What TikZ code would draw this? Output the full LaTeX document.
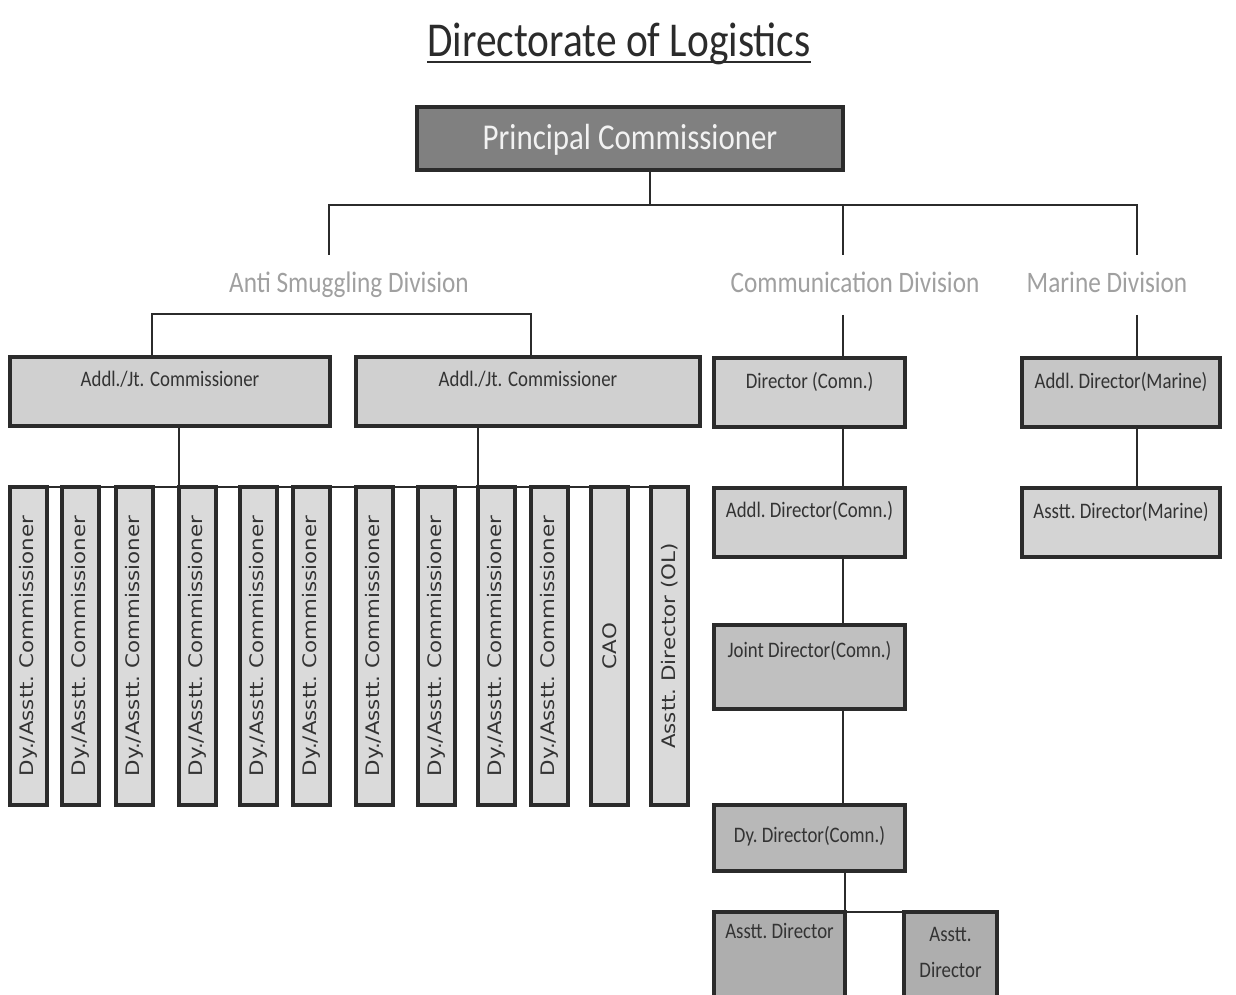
\documentclass[tikz,border=0pt]{standalone}
\usepackage{fontspec}
\setmainfont{Carlito}[FakeStretch=0.85]
\newfontfamily\vertfont{DejaVu Sans}[FakeStretch=1.15]
\usetikzlibrary{positioning}

\definecolor{boxline}{HTML}{2B2B2B}
\definecolor{boxtext}{HTML}{333333}
\definecolor{pcfill}{HTML}{808080}
\definecolor{pctext}{HTML}{F2F2F2}
\definecolor{labelgray}{HTML}{A0A0A0}
\definecolor{addlfill}{HTML}{D0D0D0}
\definecolor{vfill}{HTML}{DADADA}
\definecolor{dirfill}{HTML}{D0D0D0}
\definecolor{jdfill}{HTML}{C0C0C0}
\definecolor{dyfill}{HTML}{B8B8B8}
\definecolor{asfill}{HTML}{AEAEAE}
\definecolor{mfill}{HTML}{C6C6C6}
\definecolor{amfill}{HTML}{D4D4D4}

\begin{document}
\begin{tikzpicture}[x=1cm, y=-1cm,
    box/.style={draw=boxline, line width=1.8pt, fill=#1, anchor=north west, inner sep=0pt, outer sep=0pt,
        text=boxtext, align=center, font=\fontsize{12.6}{20}\selectfont,
        text height=0.6cm, text depth=0.78cm},
    vbox/.style={draw=boxline, line width=1.8pt, fill=vfill, rotate=90, inner sep=0pt, outer sep=0pt,
        minimum width=6.36cm, minimum height=0.74cm, text=boxtext,
        font=\vertfont\fontsize{10.6}{12}\selectfont},
    division/.style={anchor=base, text=labelgray, font=\fontsize{16.9}{20}\selectfont},
    link/.style={draw=boxline, line width=0.9pt}]

    % page
    \clip (0,0) rectangle (24.72,19.9);
    \fill[white] (0,0) rectangle (24.72,19.9);

    % title
    \node[anchor=base, inner sep=0pt, font=\fontsize{27.7}{32}\selectfont, text=boxline] (title) at (12.38,1.14) {Directorate of Logistics};
    \draw[boxline, line width=1.5pt] ([yshift=-0.1cm]title.base west) -- ([yshift=-0.1cm]title.base east);

    % head
    \node[box=pcfill, line width=2.3pt, minimum width=8.52cm, text=pctext, font=\fontsize{20.7}{24}\selectfont,
          text height=0.86cm, text depth=0.40cm] (pc) at (8.34,2.14) {Principal Commissioner};

    % divisions
    \node[division] (asd) at (6.98,5.86) {Anti Smuggling Division};
    \node[division] (cdv) at (17.10,5.86) {Communication Division};
    \node[division] (mdv) at (22.14,5.86) {Marine Division};

    \coordinate (pc foot) at ([xshift=0.4cm]pc.south);
    \coordinate (bus) at (13.0,4.10);
    \coordinate (asd top) at (6.58,5.10);
    \coordinate (cdv top) at (16.86,5.10);
    \coordinate (mdv top) at (22.74,5.10);
    \draw[link] (pc foot) -- (pc foot |- bus);
    \draw[link] (asd top) |- (bus) -| (mdv top);
    \draw[link] (cdv top |- bus) -- (cdv top);

    % anti smuggling division
    \node[box=addlfill, minimum width=6.4cm] (addlA) at (0.20,7.14) {Addl./Jt. Commissioner};
    \node[box=addlfill, minimum width=6.88cm] (addlB) at (7.12,7.14) {Addl./Jt. Commissioner};

    \coordinate (asd bar) at (6.80,6.28);
    \draw[link] ([xshift=-0.36cm]addlA.north) |- (asd bar) -| ([xshift=0.06cm]addlB.north);

    \node[vbox] (dy1) at (0.57,12.92) {Dy./Asstt.\ Commissioner};
    \node[vbox] (dy2) at (1.61,12.92) {Dy./Asstt.\ Commissioner};
    \node[vbox] (dy3) at (2.69,12.92) {Dy./Asstt.\ Commissioner};
    \node[vbox] (dy4) at (3.95,12.92) {Dy./Asstt.\ Commissioner};
    \node[vbox] (dy5) at (5.17,12.92) {Dy./Asstt.\ Commissioner};
    \node[vbox] (dy6) at (6.23,12.92) {Dy./Asstt.\ Commissioner};
    \node[vbox] (dy7) at (7.49,12.92) {Dy./Asstt.\ Commissioner};
    \node[vbox] (dy8) at (8.73,12.92) {Dy./Asstt.\ Commissioner};
    \node[vbox] (dy9) at (9.93,12.92) {Dy./Asstt.\ Commissioner};
    \node[vbox] (dy10) at (10.99,12.92) {Dy./Asstt.\ Commissioner};
    \node[vbox] (cao) at (12.19,12.92) {CAO};
    \node[vbox] (adol) at (13.39,12.92) {Asstt.\ Director (OL)};

    \draw[link] (dy1.north east) -- (adol.south east);
    \draw[link] (addlA.south -| dy4.north east) -- (dy4.north east);
    \draw[link] (addlB.south -| dy9.north east) -- (dy9.north east);

    % communication division
    \node[box=dirfill, minimum width=3.82cm] (dirC) at (14.28,7.16) {Director (Comn.)};
    \node[box=dirfill, minimum width=3.82cm, text height=0.58cm, text depth=0.80cm] (addC) at (14.28,9.76) {Addl.\ Director(Comn.)};
    \node[box=jdfill, minimum width=3.82cm, text height=0.64cm, text depth=1.04cm] (jdC) at (14.28,12.50) {Joint Director(Comn.)};
    \node[box=dyfill, minimum width=3.82cm, text height=0.74cm, text depth=0.58cm] (dyC) at (14.28,16.10) {Dy.\ Director(Comn.)};
    \node[box=asfill, minimum width=2.62cm, text height=0.52cm, text depth=1.60cm] (asA) at (14.28,18.24) {Asstt.\ Director};
    \node[box=asfill, minimum width=1.86cm, text height=1.30cm, text depth=0.82cm] (asB) at (18.08,18.24) {Asstt.\\Director};

    \coordinate (cdv foot) at (16.86,6.30);
    \draw[link] (cdv foot) -- (cdv foot |- dirC.north);
    \draw[link] (dirC.south -| cdv foot) -- (addC.north -| cdv foot);
    \draw[link] (addC.south -| cdv foot) -- (jdC.north -| cdv foot);
    \draw[link] (jdC.south -| cdv foot) -- (dyC.north -| cdv foot);
    \draw[link] (dyC.south -| asA.north east) -- (asA.north east) -- (asB.north west);

    % marine division
    \node[box=mfill, minimum width=3.96cm, text height=0.62cm, text depth=0.76cm] (admM) at (20.44,7.16) {Addl.\ Director(Marine)};
    \node[box=amfill, minimum width=3.96cm, text height=0.60cm, text depth=0.78cm] (asmM) at (20.44,9.76) {Asstt.\ Director(Marine)};

    \coordinate (mdv foot) at (22.74,6.30);
    \draw[link] (mdv foot) -- (mdv foot |- admM.north);
    \draw[link] (admM.south -| mdv foot) -- (asmM.north -| mdv foot);

\end{tikzpicture}
\end{document}
